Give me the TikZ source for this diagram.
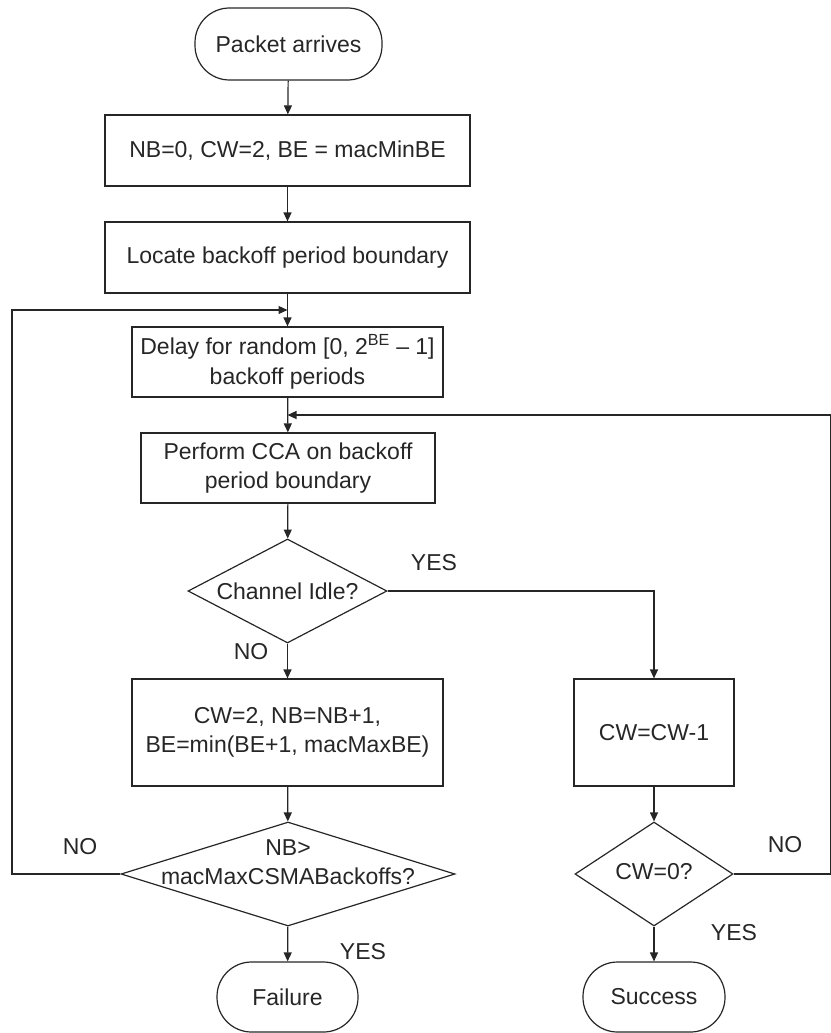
\documentclass[tikz,border=0pt]{standalone}
\usepackage{fontspec}
\setmainfont{Liberation Sans}
\usetikzlibrary{shapes.geometric,arrows.meta}
\definecolor{ink}{gray}{0.15}
\begin{document}
\begin{tikzpicture}[x=1pt,y=-1pt,
  every node/.style={font=\fontsize{23}{29.5}\selectfont, text=ink},
  process/.style={draw=ink, line width=1.2pt, rectangle, inner sep=0pt, align=center},
  terminal/.style={draw=ink, line width=1.2pt, rectangle, rounded corners=34.5pt, inner sep=0pt},
  decision/.style={draw=ink, line width=1.2pt, diamond, inner sep=0pt},
  caption/.style={inner sep=0pt, align=center},
  flow/.style={draw=ink, line width=1.2pt, -{Triangle[length=9pt,width=8pt]}},
  wire/.style={draw=ink, line width=1.2pt}
]
\useasboundingbox (0,0) rectangle (830,1033);

% main column
\node[terminal, minimum width=187pt, minimum height=72pt] (start) at (288.5,44) {Packet arrives};
\node[process, minimum width=365pt, minimum height=71pt] (init) at (287.5,150.5) {NB=0, CW=2, BE = macMinBE};
\node[process, minimum width=365pt, minimum height=71pt] (locate) at (287.5,257.5) {Locate backoff period boundary};
\node[process, minimum width=311pt, minimum height=70pt] (delay) at (287.5,362) {Delay for random [0, 2\textsuperscript{BE} -- 1]\\backoff periods};
\node[process, minimum width=294pt, minimum height=70pt] (cca) at (288,468) {Perform CCA on backoff\\period boundary};
\node[decision, minimum width=199pt, minimum height=104pt] (idle) at (287.5,591) {};
\node[caption] at (287.5,591) {Channel Idle?};
\node[process, minimum width=311pt, minimum height=107pt] (upd) at (287.5,732.5) {CW=2, NB=NB+1,\\BE=min(BE+1, macMaxBE)};
\node[decision, minimum width=334pt, minimum height=104pt] (nbchk) at (288,874) {};
\node[caption] at (288,862) {NB>\\macMaxCSMABackoffs?};
\node[terminal, minimum width=141pt, minimum height=70pt] (fail) at (287.5,997) {Failure};

% right column
\node[process, minimum width=160pt, minimum height=107pt] (dec) at (654,732.5) {CW=CW-1};
\node[decision, minimum width=158pt, minimum height=104pt] (cwchk) at (654,874) {};
\node[caption] at (654,872) {CW=0?};
\node[terminal, minimum width=142pt, minimum height=70pt] (succ) at (654,997) {Success};

% junctions of the loop-backs on the main column
\coordinate (j1) at (287.5,310);
\coordinate (j2) at (287.5,415);
\coordinate (lft) at (12,310);
\coordinate (rgt) at (831,415);

% straight flow
\draw[flow] (start) -- (init);
\draw[flow] (init) -- (locate);
\draw[flow] (locate) -- (delay);
\draw[flow] (delay) -- (cca);
\draw[flow] (cca) -- (idle);
\draw[flow] (idle) -- (upd);
\draw[flow] (upd) -- (nbchk);
\draw[flow] (nbchk) -- (fail);
\draw[flow] (idle.east) -| (dec.north);
\draw[flow] (dec) -- (cwchk);
\draw[flow] (cwchk) -- (succ);

% loop-backs
\draw[flow] (nbchk.west) -| (lft) -- (j1);
\draw[flow] (cwchk.east) -| (rgt) -- (j2);

% branch labels
\node[caption] at (434,563) {YES};
\node[caption] at (251,652) {NO};
\node[caption] at (80,847) {NO};
\node[caption] at (363,952) {YES};
\node[caption] at (785,845) {NO};
\node[caption] at (734,933) {YES};
\end{tikzpicture}
\end{document}
